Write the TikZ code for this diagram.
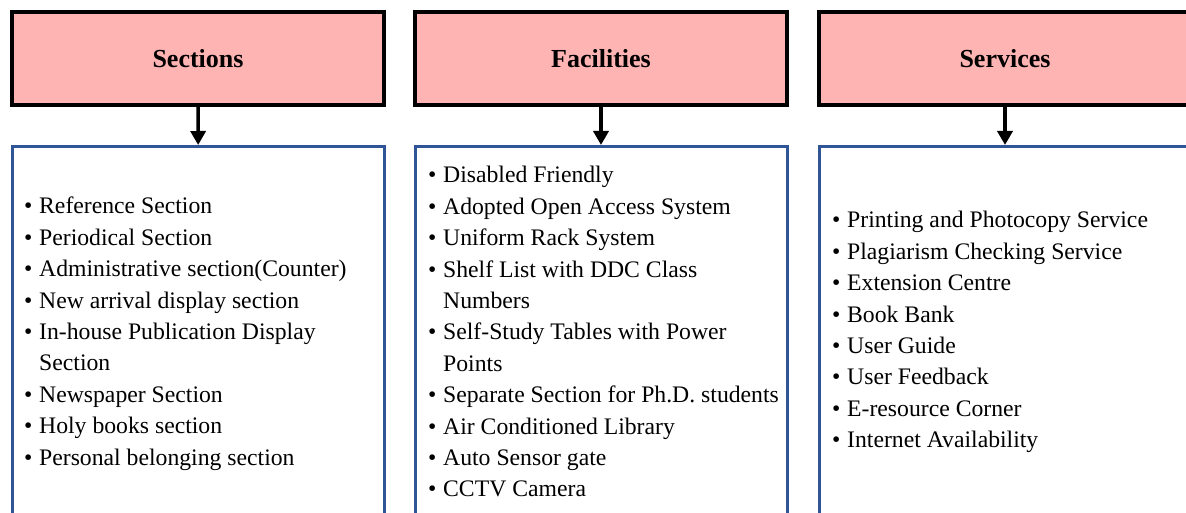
\documentclass[tikz,border=0pt]{standalone}
\usepackage{fontspec}
\setmainfont{Liberation Serif}
\usetikzlibrary{arrows.meta}
\definecolor{pinkfill}{RGB}{255,180,180}
\definecolor{boxblue}{RGB}{47,85,151}
\begin{document}
\begin{tikzpicture}[x=1pt,y=-1pt,
  head/.style={draw=black,line width=3.5pt,fill=pinkfill,minimum width=372pt,minimum height=93pt,inner sep=0pt,font=\fontsize{26}{30}\selectfont\bfseries},
  body/.style={draw=boxblue,line width=3pt,minimum width=372pt,minimum height=420pt,inner sep=0pt},
  list/.style={anchor=base west,inner sep=0pt,font=\fontsize{23.7}{31.4}\selectfont},
  conn/.style={line width=3.5pt,-{Triangle[width=15pt,length=14pt]}}]
\useasboundingbox (0,0) rectangle (1186,513);
\clip (0,0) rectangle (1186,513);
% headers
\node[head] (h1) at (198,58.5) {Sections};
\node[head] (h2) at (601,58.5) {Facilities};
\node[head] (h3) at (1005,58.5) {Services};
% bodies
\node[body] (b1) at (198.5,356.5) {};
\node[body] (b2) at (601,356.5) {};
\node[body] (b3) at (1005,356.5) {};
% connectors
\draw[conn] (h1) -- (b1);
\draw[conn] (h2) -- (b2);
\draw[conn] (h3) -- (b3);
% lists
\node[list] (l1) at (24,214) {\begin{tabular}[t]{@{}p{15pt}@{}l@{}}
\textbullet & Reference Section\\
\textbullet & Periodical Section\\
\textbullet & Administrative section(Counter)\\
\textbullet & New arrival display section\\
\textbullet & In-house Publication Display\\
 & Section\\
\textbullet & Newspaper Section\\
\textbullet & Holy books section\\
\textbullet & Personal belonging section
\end{tabular}};
\node[list] (l2) at (428,183) {\begin{tabular}[t]{@{}p{15pt}@{}l@{}}
\textbullet & Disabled Friendly\\
\textbullet & Adopted Open Access System\\
\textbullet & Uniform Rack System\\
\textbullet & Shelf List with DDC Class\\
 & Numbers\\
\textbullet & Self-Study Tables with Power\\
 & Points\\
\textbullet & Separate Section for Ph.D. students\\
\textbullet & Air Conditioned Library\\
\textbullet & Auto Sensor gate\\
\textbullet & CCTV Camera
\end{tabular}};
\node[list] (l3) at (832,228) {\begin{tabular}[t]{@{}p{15pt}@{}l@{}}
\textbullet & Printing and Photocopy Service\\
\textbullet & Plagiarism Checking Service\\
\textbullet & Extension Centre\\
\textbullet & Book Bank\\
\textbullet & User Guide\\
\textbullet & User Feedback\\
\textbullet & E-resource Corner\\
\textbullet & Internet Availability
\end{tabular}};
\end{tikzpicture}
\end{document}
